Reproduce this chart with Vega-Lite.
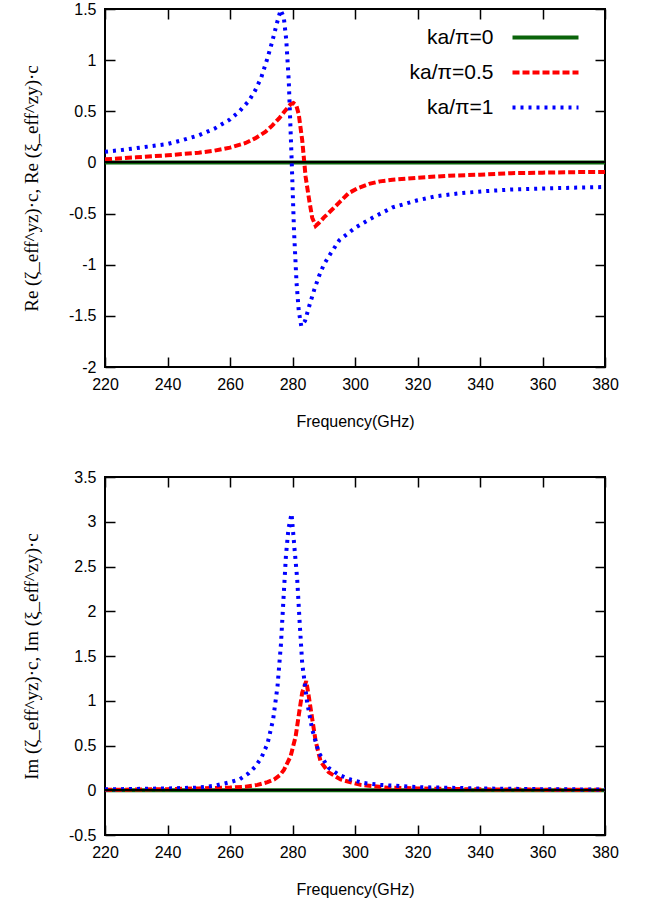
{
  "$schema": "https://vega.github.io/schema/vega-lite/v6.json",
  "padding": {"left": 21, "top": 0, "right": 5, "bottom": 5},
  "background": "white",
  "config": {
    "font": "Liberation Sans",
    "view": {"stroke": "black", "strokeWidth": 2},
    "axis": {
      "grid": false, "domain": false, "labelFontSize": 16, "labelColor": "black",
      "titleColor": "black", "tickColor": "black", "tickWidth": 1.5, "tickSize": -10,
      "labelPadding": 19, "titleFontWeight": "normal", "labelFont": "Liberation Sans",
      "labelFlush": false, "labelOverlap": false
    }
  },
  "datasets": {
    "re": [
      {"f": 220, "s": "ka/π=0", "v": 0}, {"f": 300, "s": "ka/π=0", "v": 0}, {"f": 380, "s": "ka/π=0", "v": 0},
      {"f": 220, "s": "ka/π=0.5", "v": 0.03}, {"f": 230, "s": "ka/π=0.5", "v": 0.05}, {"f": 240, "s": "ka/π=0.5", "v": 0.07},
      {"f": 250, "s": "ka/π=0.5", "v": 0.095}, {"f": 255, "s": "ka/π=0.5", "v": 0.115}, {"f": 260, "s": "ka/π=0.5", "v": 0.145},
      {"f": 265, "s": "ka/π=0.5", "v": 0.19}, {"f": 268, "s": "ka/π=0.5", "v": 0.235}, {"f": 271.4, "s": "ka/π=0.5", "v": 0.3},
      {"f": 273.5, "s": "ka/π=0.5", "v": 0.36}, {"f": 275.7, "s": "ka/π=0.5", "v": 0.43}, {"f": 277.5, "s": "ka/π=0.5", "v": 0.5},
      {"f": 279.4, "s": "ka/π=0.5", "v": 0.57}, {"f": 280.3, "s": "ka/π=0.5", "v": 0.58}, {"f": 281.2, "s": "ka/π=0.5", "v": 0.56},
      {"f": 282, "s": "ka/π=0.5", "v": 0.47}, {"f": 283.1, "s": "ka/π=0.5", "v": 0.22}, {"f": 284.2, "s": "ka/π=0.5", "v": -0.14},
      {"f": 285.3, "s": "ka/π=0.5", "v": -0.36}, {"f": 286.3, "s": "ka/π=0.5", "v": -0.54}, {"f": 287.4, "s": "ka/π=0.5", "v": -0.62},
      {"f": 288.5, "s": "ka/π=0.5", "v": -0.59}, {"f": 290, "s": "ka/π=0.5", "v": -0.54}, {"f": 291.7, "s": "ka/π=0.5", "v": -0.49},
      {"f": 295, "s": "ka/π=0.5", "v": -0.39}, {"f": 298, "s": "ka/π=0.5", "v": -0.3}, {"f": 301, "s": "ka/π=0.5", "v": -0.25},
      {"f": 304.5, "s": "ka/π=0.5", "v": -0.21}, {"f": 308, "s": "ka/π=0.5", "v": -0.185}, {"f": 312, "s": "ka/π=0.5", "v": -0.17},
      {"f": 320, "s": "ka/π=0.5", "v": -0.15}, {"f": 330, "s": "ka/π=0.5", "v": -0.13}, {"f": 340, "s": "ka/π=0.5", "v": -0.12},
      {"f": 350, "s": "ka/π=0.5", "v": -0.105}, {"f": 360, "s": "ka/π=0.5", "v": -0.1}, {"f": 370, "s": "ka/π=0.5", "v": -0.095},
      {"f": 380, "s": "ka/π=0.5", "v": -0.093},
      {"f": 220, "s": "ka/π=1", "v": 0.105}, {"f": 225, "s": "ka/π=1", "v": 0.12}, {"f": 230, "s": "ka/π=1", "v": 0.14},
      {"f": 235, "s": "ka/π=1", "v": 0.16}, {"f": 240, "s": "ka/π=1", "v": 0.18}, {"f": 245, "s": "ka/π=1", "v": 0.22},
      {"f": 250, "s": "ka/π=1", "v": 0.265}, {"f": 255, "s": "ka/π=1", "v": 0.33}, {"f": 260, "s": "ka/π=1", "v": 0.42},
      {"f": 263, "s": "ka/π=1", "v": 0.5}, {"f": 266, "s": "ka/π=1", "v": 0.6}, {"f": 268, "s": "ka/π=1", "v": 0.7},
      {"f": 270, "s": "ka/π=1", "v": 0.83}, {"f": 272, "s": "ka/π=1", "v": 1.02}, {"f": 273.5, "s": "ka/π=1", "v": 1.18},
      {"f": 275, "s": "ka/π=1", "v": 1.36}, {"f": 276.2, "s": "ka/π=1", "v": 1.49}, {"f": 277.2, "s": "ka/π=1", "v": 1.42},
      {"f": 278, "s": "ka/π=1", "v": 1.2}, {"f": 278.8, "s": "ka/π=1", "v": 0.8}, {"f": 279.7, "s": "ka/π=1", "v": 0.05},
      {"f": 280.5, "s": "ka/π=1", "v": -0.68}, {"f": 281.3, "s": "ka/π=1", "v": -1.18}, {"f": 282, "s": "ka/π=1", "v": -1.45},
      {"f": 282.8, "s": "ka/π=1", "v": -1.6}, {"f": 284, "s": "ka/π=1", "v": -1.55}, {"f": 285.3, "s": "ka/π=1", "v": -1.41},
      {"f": 287, "s": "ka/π=1", "v": -1.24}, {"f": 288.5, "s": "ka/π=1", "v": -1.11}, {"f": 290, "s": "ka/π=1", "v": -1.0},
      {"f": 292, "s": "ka/π=1", "v": -0.9}, {"f": 295, "s": "ka/π=1", "v": -0.76}, {"f": 300, "s": "ka/π=1", "v": -0.64},
      {"f": 305, "s": "ka/π=1", "v": -0.55}, {"f": 312, "s": "ka/π=1", "v": -0.44}, {"f": 320, "s": "ka/π=1", "v": -0.37},
      {"f": 326, "s": "ka/π=1", "v": -0.33}, {"f": 334, "s": "ka/π=1", "v": -0.3}, {"f": 342, "s": "ka/π=1", "v": -0.28},
      {"f": 350, "s": "ka/π=1", "v": -0.265}, {"f": 360, "s": "ka/π=1", "v": -0.255}, {"f": 370, "s": "ka/π=1", "v": -0.247},
      {"f": 380, "s": "ka/π=1", "v": -0.24}
    ],
    "im": [
      {"f": 220, "s": "ka/π=0", "v": 0}, {"f": 300, "s": "ka/π=0", "v": 0}, {"f": 380, "s": "ka/π=0", "v": 0},
      {"f": 220, "s": "ka/π=0.5", "v": 0.005}, {"f": 230, "s": "ka/π=0.5", "v": 0.008}, {"f": 240, "s": "ka/π=0.5", "v": 0.012},
      {"f": 250, "s": "ka/π=0.5", "v": 0.02}, {"f": 260, "s": "ka/π=0.5", "v": 0.03}, {"f": 265, "s": "ka/π=0.5", "v": 0.04},
      {"f": 268.8, "s": "ka/π=0.5", "v": 0.06}, {"f": 272, "s": "ka/π=0.5", "v": 0.09}, {"f": 274.1, "s": "ka/π=0.5", "v": 0.12},
      {"f": 276, "s": "ka/π=0.5", "v": 0.17}, {"f": 277.3, "s": "ka/π=0.5", "v": 0.23}, {"f": 279.4, "s": "ka/π=0.5", "v": 0.38},
      {"f": 281, "s": "ka/π=0.5", "v": 0.6}, {"f": 282.1, "s": "ka/π=0.5", "v": 0.86}, {"f": 283.1, "s": "ka/π=0.5", "v": 1.09},
      {"f": 284.4, "s": "ka/π=0.5", "v": 1.22}, {"f": 285.2, "s": "ka/π=0.5", "v": 1.05}, {"f": 286.3, "s": "ka/π=0.5", "v": 0.8},
      {"f": 287.4, "s": "ka/π=0.5", "v": 0.55}, {"f": 289, "s": "ka/π=0.5", "v": 0.32}, {"f": 291.6, "s": "ka/π=0.5", "v": 0.2},
      {"f": 295.4, "s": "ka/π=0.5", "v": 0.12}, {"f": 301.8, "s": "ka/π=0.5", "v": 0.06}, {"f": 310, "s": "ka/π=0.5", "v": 0.03},
      {"f": 320, "s": "ka/π=0.5", "v": 0.02}, {"f": 340, "s": "ka/π=0.5", "v": 0.01}, {"f": 360, "s": "ka/π=0.5", "v": 0.007},
      {"f": 380, "s": "ka/π=0.5", "v": 0.005},
      {"f": 220, "s": "ka/π=1", "v": 0.01}, {"f": 230, "s": "ka/π=1", "v": 0.015}, {"f": 240, "s": "ka/π=1", "v": 0.02},
      {"f": 250, "s": "ka/π=1", "v": 0.03}, {"f": 255, "s": "ka/π=1", "v": 0.05}, {"f": 260, "s": "ka/π=1", "v": 0.09},
      {"f": 263, "s": "ka/π=1", "v": 0.12}, {"f": 266, "s": "ka/π=1", "v": 0.19}, {"f": 268, "s": "ka/π=1", "v": 0.26},
      {"f": 270, "s": "ka/π=1", "v": 0.36}, {"f": 272, "s": "ka/π=1", "v": 0.52}, {"f": 273.8, "s": "ka/π=1", "v": 0.79},
      {"f": 275.2, "s": "ka/π=1", "v": 1.16}, {"f": 276.3, "s": "ka/π=1", "v": 1.63}, {"f": 277.1, "s": "ka/π=1", "v": 2.13},
      {"f": 277.9, "s": "ka/π=1", "v": 2.62}, {"f": 278.7, "s": "ka/π=1", "v": 2.92}, {"f": 279.7, "s": "ka/π=1", "v": 3.09},
      {"f": 280.4, "s": "ka/π=1", "v": 2.8}, {"f": 281.5, "s": "ka/π=1", "v": 2.36}, {"f": 282.3, "s": "ka/π=1", "v": 1.87},
      {"f": 283.1, "s": "ka/π=1", "v": 1.42}, {"f": 284.7, "s": "ka/π=1", "v": 0.98}, {"f": 286.3, "s": "ka/π=1", "v": 0.68},
      {"f": 288.4, "s": "ka/π=1", "v": 0.42}, {"f": 291.6, "s": "ka/π=1", "v": 0.25}, {"f": 295, "s": "ka/π=1", "v": 0.17},
      {"f": 298.6, "s": "ka/π=1", "v": 0.12}, {"f": 303, "s": "ka/π=1", "v": 0.08}, {"f": 308, "s": "ka/π=1", "v": 0.06},
      {"f": 320, "s": "ka/π=1", "v": 0.035}, {"f": 340, "s": "ka/π=1", "v": 0.02}, {"f": 360, "s": "ka/π=1", "v": 0.012},
      {"f": 380, "s": "ka/π=1", "v": 0.008}
    ]
  },
  "vconcat": [
    {
      "width": 500, "height": 358,
      "data": {"name": "re"},
      "layer": [
        {
          "mark": {"type": "line", "strokeWidth": 4, "clip": true},
          "encoding": {
            "x": {"field": "f", "type": "quantitative", "scale": {"domain": [220, 380], "nice": false},
              "axis": {"orient": "bottom", "values": [220, 240, 260, 280, 300, 320, 340, 360, 380], "title": "Frequency(GHz)", "titleFontSize": 16, "titlePadding": 21}},
            "y": {"field": "v", "type": "quantitative", "scale": {"domain": [-2, 1.5], "nice": false},
              "axis": {"orient": "left", "values": [-2, -1.5, -1, -0.5, 0, 0.5, 1, 1.5], "labelExpr": "'' + datum.value",
                "title": "Re (ζ_eff^yz)·c, Re (ξ_eff^zy)·c", "titleFont": "Liberation Serif", "titleFontSize": 19, "titlePadding": 27}},
            "color": {"field": "s", "type": "nominal",
              "scale": {"domain": ["ka/π=0", "ka/π=0.5", "ka/π=1"], "range": ["#0a640a", "#ff0000", "#0000ff"]},
              "legend": {"orient": "top-right", "title": null, "symbolType": "M-6,0H6", "symbolSize": 121, "symbolStrokeWidth": 4,
                "labelFontSize": 21, "labelAlign": "right", "labelOffset": -62.5, "offset": 18, "rowPadding": 13, "labelFont": "Liberation Sans", "labelColor": "black",
                "labelExpr": "datum.label == 'ka/π=0.5' ? datum.label : '\u2008\u2007' + datum.label"}},
            "strokeDash": {"field": "s", "type": "nominal",
              "scale": {"domain": ["ka/π=0", "ka/π=0.5", "ka/π=1"], "range": [[1, 0], [7, 3], [3, 5]]},
              "legend": {"orient": "top-right", "title": null, "symbolType": "M-6,0H6", "symbolSize": 121, "symbolStrokeWidth": 4,
                "labelFontSize": 21, "labelAlign": "right", "labelOffset": -62.5, "offset": 18, "rowPadding": 13, "labelFont": "Liberation Sans", "labelColor": "black",
                "labelExpr": "datum.label == 'ka/π=0.5' ? datum.label : '\u2008\u2007' + datum.label"}}
          }
        },
        {
          "mark": {"type": "rule", "color": "black", "strokeWidth": 1},
          "encoding": {"y": {"datum": 0, "axis": null}}
        },
        {
          "mark": {"type": "point", "opacity": 0},
          "encoding": {
            "x": {"field": "f", "type": "quantitative", "axis": {"orient": "top", "values": [220, 240, 260, 280, 300, 320, 340, 360, 380], "labels": false, "title": null}},
            "y": {"field": "v", "type": "quantitative", "axis": {"orient": "right", "values": [-2, -1.5, -1, -0.5, 0, 0.5, 1, 1.5], "labels": false, "title": null}}
          }
        }
      ],
      "resolve": {"axis": {"x": "independent", "y": "independent"}}
    },
    {
      "width": 500, "height": 358,
      "data": {"name": "im"},
      "layer": [
        {
          "mark": {"type": "line", "strokeWidth": 4, "clip": true},
          "encoding": {
            "x": {"field": "f", "type": "quantitative", "scale": {"domain": [220, 380], "nice": false},
              "axis": {"orient": "bottom", "values": [220, 240, 260, 280, 300, 320, 340, 360, 380], "title": "Frequency(GHz)", "titleFontSize": 16, "titlePadding": 21}},
            "y": {"field": "v", "type": "quantitative", "scale": {"domain": [-0.5, 3.5], "nice": false},
              "axis": {"orient": "left", "values": [-0.5, 0, 0.5, 1, 1.5, 2, 2.5, 3, 3.5], "labelExpr": "'' + datum.value",
                "title": "Im (ζ_eff^yz)·c, Im (ξ_eff^zy)·c", "titleFont": "Liberation Serif", "titleFontSize": 19, "titlePadding": 27}},
            "color": {"field": "s", "type": "nominal",
              "scale": {"domain": ["ka/π=0", "ka/π=0.5", "ka/π=1"], "range": ["#0a640a", "#ff0000", "#0000ff"]}, "legend": null},
            "strokeDash": {"field": "s", "type": "nominal",
              "scale": {"domain": ["ka/π=0", "ka/π=0.5", "ka/π=1"], "range": [[1, 0], [7, 3], [3, 5]]}, "legend": null}
          }
        },
        {
          "mark": {"type": "rule", "color": "black", "strokeWidth": 1},
          "encoding": {"y": {"datum": 0, "axis": null}}
        },
        {
          "mark": {"type": "point", "opacity": 0},
          "encoding": {
            "x": {"field": "f", "type": "quantitative", "axis": {"orient": "top", "values": [220, 240, 260, 280, 300, 320, 340, 360, 380], "labels": false, "title": null}},
            "y": {"field": "v", "type": "quantitative", "axis": {"orient": "right", "values": [-0.5, 0, 0.5, 1, 1.5, 2, 2.5, 3, 3.5], "labels": false, "title": null}}
          }
        }
      ],
      "resolve": {"axis": {"x": "independent", "y": "independent"}}
    }
  ],
  "spacing": 38,
  "resolve": {"scale": {"x": "independent", "y": "independent", "color": "independent", "strokeDash": "independent"}}
}
